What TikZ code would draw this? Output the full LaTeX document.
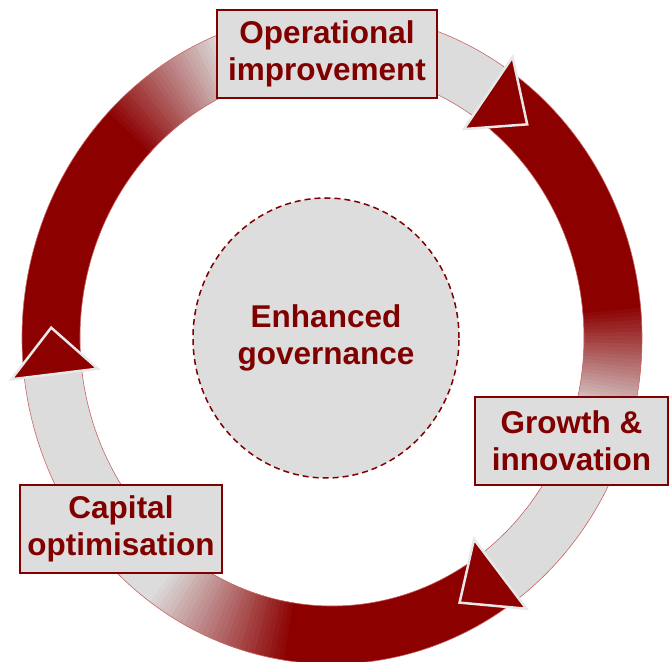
\documentclass[tikz,border=0pt]{standalone}
\usepackage{fontspec}
\setmainfont{Liberation Sans}
\usetikzlibrary{shapes.geometric}
\definecolor{ringred}{RGB}{140,0,0}
\definecolor{ringgray}{RGB}{220,220,220}
\definecolor{boxgray}{RGB}{221,221,221}
\definecolor{txtred}{RGB}{128,0,0}
\definecolor{edgered}{RGB}{200,100,100}
\definecolor{tipedge}{RGB}{232,232,232}
\newcommand{\ringpiece}[3]{\fill[#3] (#1:252pt and 268pt) arc[start angle=#1, end angle=#2, x radius=252pt, y radius=268pt] -- (#2:310pt and 326pt) arc[start angle=#2, end angle=#1, x radius=310pt, y radius=326pt] -- cycle;}
\newcommand{\ringedge}[2]{\draw[edgered, line width=0.6pt] (#1:252pt and 268pt) arc[start angle=#1, end angle=#2, x radius=252pt, y radius=268pt] -- (#2:310pt and 326pt) arc[start angle=#2, end angle=#1, x radius=310pt, y radius=326pt] -- cycle;}
\newcommand{\arrowbody}[4]{%
  \pgfmathsetmacro\darkend{#2-1}
  \ringpiece{#1}{\darkend}{ringred}
  \foreach \i [evaluate=\i as \a using {(#2)-((#2)-(#3))*\i/30}, evaluate=\i as \b using {(#2)-((#2)-(#3))*(\i+1)/30-0.4}, evaluate=\i as \p using {int(100-\i*100/30)}] in {0,...,29}
    {\ringpiece{\a}{\b}{ringred!\p!ringgray}}
  \ringpiece{#3}{#4}{ringgray}
  \ringedge{#1}{#4}}
\begin{document}
\begin{tikzpicture}[x=1pt, y=1pt,
  labelbox/.style={draw=txtred, line width=1.5pt, fill=boxgray, text=txtred, align=center, inner sep=0pt, minimum height=88pt, font=\fontsize{31.5}{37}\selectfont\bfseries},
  govcircle/.style={ellipse, draw=txtred, dash pattern=on 6pt off 4pt, line width=1.5pt, fill=boxgray, text=txtred, align=center, inner sep=0pt, minimum width=266pt, minimum height=280pt, font=\fontsize{31.5}{37}\selectfont\bfseries},
  tiphead/.style={fill=ringred, draw=tipedge, line width=2.5pt, line join=miter}]
\useasboundingbox (0,0) rectangle (669,661);
\begin{scope}[shift={(332,323)}]
\arrowbody{187}{137}{112}{56}
\arrowbody{56}{6}{-15}{-53}
\arrowbody{-53}{-98}{-126}{-173}
\draw[tiphead] (56:236pt and 252pt) -- (56:323pt and 339pt) -- (46:281pt and 297pt) -- cycle;
\draw[tiphead] (-53:236pt and 252pt) -- (-53:323pt and 339pt) -- (-63:281pt and 297pt) -- cycle;
\draw[tiphead] (187:236pt and 252pt) -- (187:323pt and 339pt) -- (178:281pt and 297pt) -- cycle;
\end{scope}
\node[govcircle] (gov) at (326,323) {Enhanced\\governance};
\node[labelbox, minimum width=220pt] (oper) at (327,607) {Operational\\improvement};
\node[labelbox, minimum width=193pt] (growth) at (571.5,220) {Growth \&\\innovation};
\node[labelbox, minimum width=202pt] (capital) at (121,132) {Capital\\optimisation};
\end{tikzpicture}
\end{document}
